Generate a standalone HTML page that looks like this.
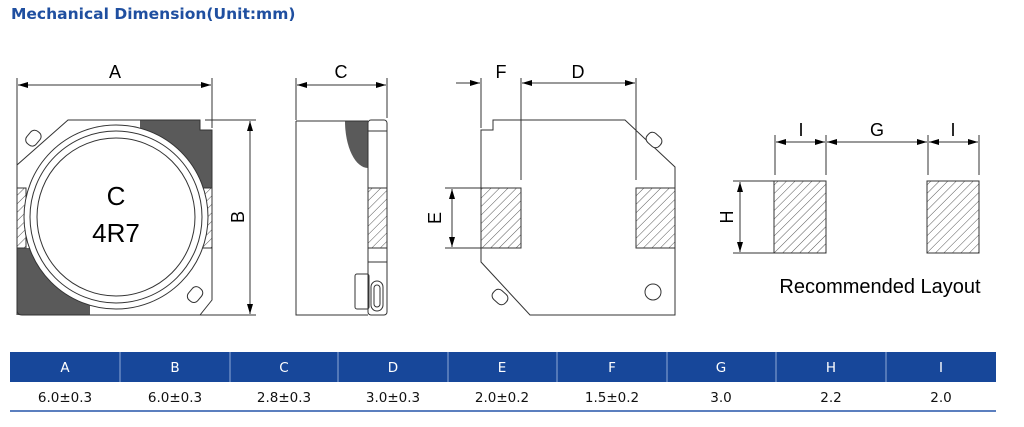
<!DOCTYPE html>
<html><head><meta charset="utf-8"><style>
body{margin:0;background:#fff;width:1024px;height:427px;overflow:hidden;font-family:"Liberation Sans",sans-serif}
.t{position:absolute;left:11px;top:5px;font-size:15.5px;font-weight:bold;color:#1f4fa0;font-family:"DejaVu Sans","Liberation Sans",sans-serif;letter-spacing:0px}
</style></head><body>
<div class="t">Mechanical Dimension(Unit:mm)</div>
<svg width="1024" height="427" style="position:absolute;left:0;top:0" font-family="Liberation Sans, sans-serif">
<defs>
<pattern id="h" width="6" height="6" patternUnits="userSpaceOnUse" patternTransform="rotate(45)">
<line x1="0" y1="0" x2="0" y2="6" stroke="#444" stroke-width="0.9"/></pattern>
<marker id="a" viewBox="0 0 10 6" refX="10" refY="3" markerWidth="10" markerHeight="6" orient="auto-start-reverse" markerUnits="userSpaceOnUse"><path d="M0,0L10,3L0,6z" fill="#000"/></marker>
</defs>
<g stroke="#333" stroke-width="1" fill="none">
<!-- view 1 -->
<line x1="17" y1="78" x2="17" y2="315"/><line x1="212" y1="78" x2="212" y2="128"/>
<line x1="18" y1="85" x2="211" y2="85" marker-start="url(#a)" marker-end="url(#a)"/>
<line x1="205" y1="120" x2="256" y2="120"/><line x1="90" y1="315" x2="256" y2="315"/>
<line x1="250" y1="121" x2="250" y2="314" marker-start="url(#a)" marker-end="url(#a)"/>
<path d="M140,120 H200 V130 H212 V188 H140 Z" fill="#5a5a5a" stroke="none"/>
<rect x="17" y="248" width="73" height="67" fill="#5a5a5a" stroke="none"/>
<path d="M68,120 H200 V130 H212 V300 L200,315 H22 Q17,315 17,310 V165 Z"/>
<rect x="17" y="188" width="9" height="60" fill="url(#h)"/>
<rect x="203" y="188" width="9" height="60" fill="url(#h)"/>
<circle cx="116" cy="217" r="92" fill="#fff"/>
<circle cx="116" cy="217" r="86"/>
<circle cx="116" cy="217" r="79"/>
<g transform="rotate(-50 38 142)"><rect x="30" y="130" width="16" height="12" rx="5" fill="#fff"/></g>
<g transform="rotate(-50 192 292)"><rect x="184" y="290" width="16" height="12" rx="5" fill="#fff"/></g>
<!-- view 2 -->
<line x1="296" y1="78" x2="296" y2="120"/><line x1="387" y1="78" x2="387" y2="118"/>
<line x1="297" y1="85" x2="386" y2="85" marker-start="url(#a)" marker-end="url(#a)"/>
<path d="M345,121 H368 V168 A23,47 0 0 1 345,121 Z" fill="#5a5a5a" stroke="none"/>
<path d="M296,121 H368 M296,121 V315 H368"/>
<rect x="368" y="120" width="19" height="195" rx="3"/>
<line x1="368" y1="131" x2="387" y2="131"/><line x1="368" y1="262" x2="387" y2="262"/>
<rect x="368" y="188" width="19" height="60" fill="url(#h)"/>
<rect x="355" y="274" width="14" height="35" rx="2"/>
<rect x="371" y="281" width="12" height="30" rx="6"/><rect x="374" y="285" width="6" height="22" rx="3"/>
<!-- view 3 -->
<line x1="481" y1="78" x2="481" y2="128"/><line x1="521" y1="78" x2="521" y2="180"/><line x1="636" y1="78" x2="636" y2="180"/>
<line x1="456" y1="83" x2="480" y2="83" marker-end="url(#a)"/>
<line x1="522" y1="83" x2="635" y2="83" marker-start="url(#a)" marker-end="url(#a)"/>
<path d="M481,130 H493 V120 H625 L675,167 V315 H530 L481,262 Z"/>
<rect x="481" y="188" width="40" height="60" fill="url(#h)"/>
<rect x="636" y="188" width="39" height="60" fill="url(#h)"/>
<line x1="445" y1="188" x2="481" y2="188"/><line x1="445" y1="248" x2="481" y2="248"/>
<line x1="452" y1="189" x2="452" y2="247" marker-start="url(#a)" marker-end="url(#a)"/>
<circle cx="653" cy="292" r="8"/>
<g transform="rotate(42 654 140)"><rect x="646" y="134" width="16" height="12" rx="5" fill="#fff"/></g>
<g transform="rotate(42 500 297)"><rect x="492" y="291" width="16" height="12" rx="5" fill="#fff"/></g>
<!-- layout -->
<line x1="775" y1="135" x2="775" y2="175"/><line x1="826" y1="135" x2="826" y2="175"/>
<line x1="928" y1="135" x2="928" y2="175"/><line x1="979" y1="135" x2="979" y2="175"/>
<line x1="776" y1="142" x2="825" y2="142" marker-start="url(#a)" marker-end="url(#a)"/>
<line x1="827" y1="142" x2="927" y2="142" marker-start="url(#a)" marker-end="url(#a)"/>
<line x1="929" y1="142" x2="978" y2="142" marker-start="url(#a)" marker-end="url(#a)"/>
<rect x="774" y="181" width="52" height="72" fill="url(#h)"/>
<rect x="927" y="181" width="52" height="72" fill="url(#h)"/>
<line x1="733" y1="181" x2="774" y2="181"/><line x1="733" y1="253" x2="774" y2="253"/>
<line x1="740" y1="182" x2="740" y2="252" marker-start="url(#a)" marker-end="url(#a)"/>
</g>
<g font-size="18" fill="#000" text-anchor="middle">
<text x="115" y="78">A</text><text x="341" y="78">C</text><text x="501" y="78">F</text><text x="578" y="78">D</text>
<text x="801" y="136">I</text><text x="877" y="136">G</text><text x="953" y="136">I</text>
<text transform="translate(244,217) rotate(-90)">B</text>
<text transform="translate(441,218) rotate(-90)">E</text>
<text transform="translate(733,217) rotate(-90)">H</text>
<text x="116" y="205" font-size="26">C</text><text x="116" y="242" font-size="26">4R7</text>
<text x="880" y="293" font-size="20">Recommended Layout</text>
</g>
<!-- table -->
<rect x="10" y="352" width="986" height="30" fill="#17479a"/>
<g stroke="#8fa8d6" stroke-width="1">
<line x1="120" y1="352" x2="120" y2="382"/><line x1="230" y1="352" x2="230" y2="382"/><line x1="338" y1="352" x2="338" y2="382"/><line x1="448" y1="352" x2="448" y2="382"/><line x1="557" y1="352" x2="557" y2="382"/><line x1="667" y1="352" x2="667" y2="382"/><line x1="776" y1="352" x2="776" y2="382"/><line x1="886" y1="352" x2="886" y2="382"/>
</g>
<rect x="10" y="410" width="986" height="2" fill="#5b7fbf"/>
<g font-family="DejaVu Sans, Liberation Sans, sans-serif" font-size="13.5" text-anchor="middle">
<g fill="#fff"><text x="65" y="372">A</text><text x="175" y="372">B</text><text x="284" y="372">C</text><text x="393" y="372">D</text><text x="502" y="372">E</text><text x="612" y="372">F</text><text x="721" y="372">G</text><text x="831" y="372">H</text><text x="941" y="372">I</text></g>
<g fill="#111"><text x="65" y="402">6.0±0.3</text><text x="175" y="402">6.0±0.3</text><text x="284" y="402">2.8±0.3</text><text x="393" y="402">3.0±0.3</text><text x="502" y="402">2.0±0.2</text><text x="612" y="402">1.5±0.2</text><text x="721" y="402">3.0</text><text x="831" y="402">2.2</text><text x="941" y="402">2.0</text></g>
</g>
</svg>
</body></html>
